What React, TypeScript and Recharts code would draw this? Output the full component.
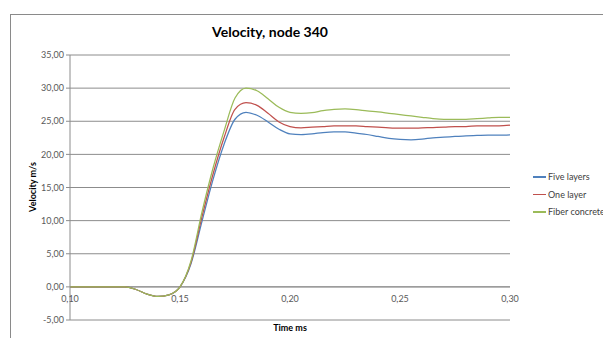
import { CartesianGrid, Line, LineChart, ReferenceLine, XAxis, YAxis } from 'recharts'

const times = [
  0.1, 0.105, 0.11, 0.115, 0.12, 0.125, 0.13, 0.135, 0.14, 0.145, 0.15, 0.155, 0.16, 0.165, 0.17, 0.175, 0.18,
  0.185, 0.19, 0.195, 0.2, 0.205, 0.21, 0.215, 0.22, 0.225, 0.23, 0.235, 0.24, 0.245, 0.25, 0.255, 0.26, 0.265,
  0.27, 0.275, 0.28, 0.285, 0.29, 0.295, 0.3,
]

const fiveLayers = [
  0, 0, 0, 0, 0, 0, -0.4, -1.1, -1.45, -1.2, 0, 3.5, 9.9, 16.2, 21.5, 25.3, 26.35, 25.9, 24.9, 23.8, 23.1, 23.0,
  23.1, 23.3, 23.4, 23.4, 23.2, 23.0, 22.7, 22.4, 22.25, 22.2, 22.3, 22.5, 22.6, 22.7, 22.8, 22.85, 22.9, 22.9, 22.95,
]

const oneLayer = [
  0, 0, 0, 0, 0, 0, -0.4, -1.1, -1.45, -1.2, 0, 3.7, 10.6, 17.0, 22.5, 26.8, 27.8, 27.4, 26.2, 24.9, 24.2, 24.0,
  24.1, 24.2, 24.3, 24.3, 24.3, 24.2, 24.1, 24.0, 23.95, 23.95, 24.0, 24.05, 24.1, 24.2, 24.2, 24.3, 24.3, 24.3, 24.4,
]

const fiberConcrete = [
  0, 0, 0, 0, 0, 0, -0.4, -1.1, -1.45, -1.2, 0, 3.9, 11.3, 17.9, 23.5, 28.5, 30.0, 29.6, 28.4, 27.1, 26.35, 26.2,
  26.3, 26.6, 26.8, 26.85, 26.75, 26.55, 26.4, 26.2, 26.0, 25.8, 25.6, 25.4, 25.3, 25.3, 25.3, 25.4, 25.5, 25.6, 25.6,
]

const xTicks = [0.1, 0.15, 0.2, 0.25, 0.3]
const yTicks = [-5, 0, 5, 10, 15, 20, 25, 30, 35]

const series = [
  { key: 'five', name: 'Five layers', color: '#4F81BD' },
  { key: 'one', name: 'One layer', color: '#C0504D' },
  { key: 'fiber', name: 'Fiber concrete', color: '#9BBB59' },
]

const data = times.map((t, i) => ({ t, five: fiveLayers[i], one: oneLayer[i], fiber: fiberConcrete[i] }))

const FONT = 'Lato, "Liberation Sans", sans-serif'
const comma = (v: number) => v.toFixed(2).replace('.', ',')

// tick labels sit just under the zero line, not at the bottom of the plot
function XTick({ x, y, payload }: any) {
  return (
    <text x={x} y={y} dy={-26} textAnchor="middle" fontSize={9} fill="#595959" fontFamily={FONT}>
      {comma(payload.value)}
    </text>
  )
}

export default function App() {
  return (
    <div
      style={{
        position: 'relative',
        marginLeft: 2,
        marginTop: 6,
        width: 640,
        height: 340,
        border: '1px solid #8a8a8a',
        background: '#fff',
      }}
    >
      <div
        style={{
          position: 'absolute',
          left: 0,
          width: 518,
          top: 8,
          textAlign: 'center',
          fontFamily: FONT,
          fontWeight: 'bold',
          fontSize: 14,
          color: '#000',
        }}
      >
        Velocity, node 340
      </div>
      <div
        style={{
          position: 'absolute',
          left: 21,
          top: 172,
          transform: 'translate(-50%, -50%) rotate(-90deg)',
          fontFamily: FONT,
          fontWeight: 'bold',
          fontSize: 9,
          whiteSpace: 'nowrap',
        }}
      >
        Velocity m/s
      </div>
      <div
        style={{
          position: 'absolute',
          left: 279,
          top: 312,
          transform: 'translate(-50%, -50%)',
          fontFamily: FONT,
          fontWeight: 'bold',
          fontSize: 9,
          whiteSpace: 'nowrap',
        }}
      >
        Time ms
      </div>
      <div style={{ position: 'absolute', left: 522, top: 153, fontFamily: FONT, fontSize: 9, color: '#404040' }}>
        {series.map((s) => (
          <div key={s.key} style={{ display: 'flex', alignItems: 'center', height: 17.5, whiteSpace: 'nowrap' }}>
            <span style={{ display: 'inline-block', width: 13, height: 1.5, background: s.color, marginRight: 2 }} />
            {s.name}
          </div>
        ))}
      </div>
      <LineChart width={620} height={325} data={data} margin={{ top: 40, right: 121, bottom: 0, left: 0 }}>
        <CartesianGrid vertical={false} stroke="#8c8c8c" strokeWidth={1} />
        <XAxis
          dataKey="t"
          type="number"
          domain={[0.1, 0.3]}
          ticks={xTicks}
          axisLine={false}
          tickLine={false}
          height={20}
          tick={<XTick />}
        />
        <YAxis
          type="number"
          domain={[-5, 35]}
          ticks={yTicks}
          width={59}
          axisLine={{ stroke: '#8c8c8c' }}
          tickLine={{ stroke: '#8c8c8c' }}
          tickSize={4}
          tickFormatter={comma}
          tick={{ fontSize: 9, fill: '#595959', fontFamily: FONT }}
        />
        <ReferenceLine y={0} stroke="#8c8c8c" />
        {series.map((s) => (
          <Line
            key={s.key}
            type="monotone"
            dataKey={s.key}
            name={s.name}
            stroke={s.color}
            strokeWidth={1.25}
            dot={false}
            isAnimationActive={false}
          />
        ))}
      </LineChart>
    </div>
  )
}
